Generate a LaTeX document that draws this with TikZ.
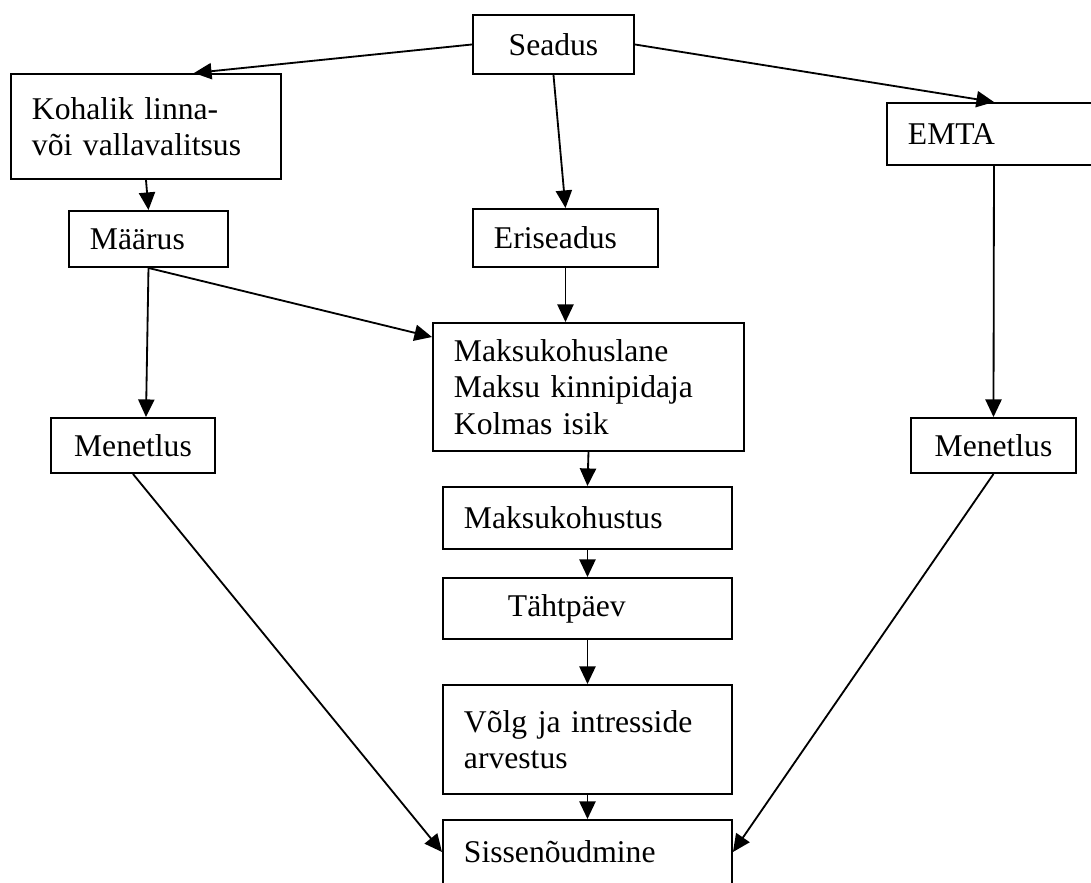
\documentclass[tikz,border=0pt]{standalone}
\usepackage{fontspec}
\setmainfont{Liberation Serif}
\usetikzlibrary{shapes}
\usetikzlibrary{positioning}
\usetikzlibrary{arrows.meta}
\tikzset{
    lbox/.style = {rectangle, draw=black, line width=1.4pt, anchor=north west, inner xsep=0.525cm, inner ysep=0pt, align=left, font=\fontsize{22.5}{25.8}\selectfont},
    cbox/.style = {rectangle, draw=black, line width=1.4pt, anchor=north west, inner sep=0pt, align=center, font=\fontsize{22.5}{25.8}\selectfont},
    edgen/.style = {-{Triangle[length=12.5pt,width=11.5pt]}, line width=1.3pt}
}
\begin{document}
\begin{tikzpicture}
\path[use as bounding box] (0,0) rectangle (27.275,-22.05);
%
\node[cbox,minimum width=4.025cm,minimum height=1.475cm] at (11.8,-0.35) (seadus) {Seadus};
\node[lbox,minimum width=6.75cm,minimum height=2.625cm,text width=5.7cm] at (0.25,-1.825) (kohalik) {Kohalik linna-\\või vallavalitsus};
\node[lbox,minimum width=5.35cm,minimum height=1.55cm,text width=4.3cm] at (22.15,-2.55) (emta) {EMTA};
\node[lbox,minimum width=3.975cm,minimum height=1.4cm,text width=2.925cm] at (1.7,-5.25) (maarus) {Määrus};
\node[lbox,minimum width=4.625cm,minimum height=1.45cm,text width=3.575cm] at (11.8,-5.2) (eriseadus) {Eriseadus};
\node[lbox,minimum width=7.775cm,minimum height=3.2cm,text width=6.725cm] at (10.8,-8.05) (maksu) {Maksukohuslane\\Maksu kinnipidaja\\Kolmas isik};
\node[cbox,minimum width=4.1cm,minimum height=1.375cm] at (1.25,-10.425) (menl) {Menetlus};
\node[cbox,minimum width=4.125cm,minimum height=1.375cm] at (22.75,-10.425) (menr) {Menetlus};
\node[lbox,minimum width=7.225cm,minimum height=1.55cm,text width=6.175cm] at (11.05,-12.15) (kohustus) {Maksukohustus};
\node[lbox,minimum width=7.225cm,minimum height=1.525cm,text width=6.175cm] at (11.05,-14.425) (tahtpaev) {\hspace*{1.1cm}Tähtpäev};
\node[lbox,minimum width=7.225cm,minimum height=2.725cm,text width=6.175cm] at (11.05,-17.1) (volg) {Võlg ja intresside\\arvestus};
\node[lbox,minimum width=7.225cm,minimum height=1.6cm,text width=6.175cm] at (11.05,-20.475) (sisse) {Sissenõudmine};
%
\draw[edgen] (seadus.west) -- ([xshift=1.2cm]kohalik.north);
\draw[edgen] (seadus.east) -- (emta.north);
\draw[edgen] (seadus.south) -- (eriseadus.north);
\draw[edgen] (kohalik.south) -- (maarus.north);
\draw[edgen] (maarus.south) -- ([xshift=0.325cm]menl.north);
\draw[edgen] (maarus.south) -- ([yshift=-0.375cm]maksu.north west);
\draw[edgen] (eriseadus.south) -- (maksu.north -| eriseadus.south);
\draw[edgen] (emta.south) -- (menr.north);
\draw[edgen] (maksu.south) -- (kohustus.north);
\draw[edgen] (kohustus.south) -- (tahtpaev.north);
\draw[edgen] (tahtpaev.south) -- (volg.north);
\draw[edgen] (volg.south) -- (sisse.north);
\draw[edgen] (menl.south) -- (sisse.west);
\draw[edgen] (menr.south) -- (sisse.east);

\end{tikzpicture}
\end{document}
